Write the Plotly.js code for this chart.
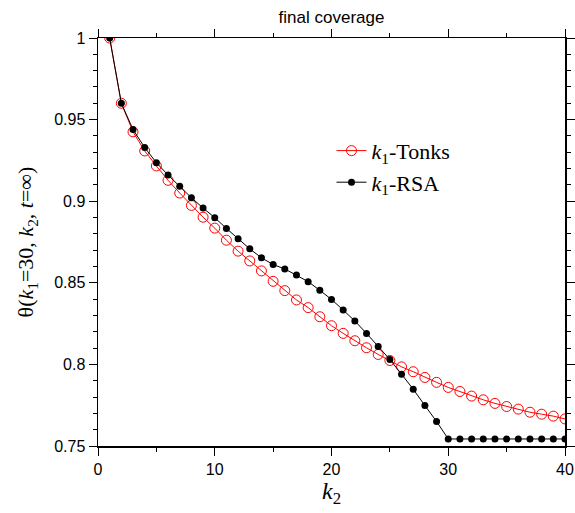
<!DOCTYPE html>
<html>
<head>
<meta charset="utf-8">
<script src="https://cdn.plot.ly/plotly-3.0.1.min.js"></script>
<style>html,body{margin:0;padding:0;background:#fff;}#chart{width:575px;height:513px;}</style>
</head>
<body>
<div id="chart"></div>
<script>
const k2 = [1,2,3,4,5,6,7,8,9,10,11,12,13,14,15,16,17,18,19,20,21,22,23,24,25,26,27,28,29,30,31,32,33,34,35,36,37,38,39,40];
const tonks = [1.0,0.960,0.9425,0.9308,0.9216,0.9128,0.905,0.8974,0.8902,0.8835,
  0.8761,0.8694,0.8634,0.8573,0.8509,0.8452,0.8395,0.8348,0.8292,0.8237,
  0.819,0.8145,0.8102,0.8061,0.8024,0.7985,0.7955,0.792,0.789,0.7859,
  0.7834,0.7806,0.7783,0.7761,0.7742,0.7726,0.7707,0.7695,0.7683,0.7666];
const rsa = [1.0,0.960,0.9439,0.9329,0.9236,0.916,0.9091,0.9021,0.8958,0.8899,
  0.8833,0.877,0.8708,0.8653,0.8612,0.8585,0.8548,0.8507,0.8454,0.8398,
  0.8333,0.8266,0.819,0.811,0.803,0.794,0.7848,0.7748,0.765,0.7543,
  0.7543,0.7543,0.7543,0.7543,0.7543,0.7543,0.7543,0.7543,0.7543,0.7543];
const names = ['<i>k</i><sub>1</sub>-Tonks', '<i>k</i><sub>1</sub>-RSA'];
const xTicks = [0,10,20,30,40];
const yTicks = [0.75,0.8,0.85,0.9,0.95,1];

const traces = [
  {x: k2, y: tonks, name: names[0], mode: 'lines+markers', type: 'scatter',
   line: {color: '#ff0000', width: 1},
   marker: {symbol: 'circle-open', size: 10, color: '#ff0000', line: {width: 1, color: '#ff0000'}}},
  {x: k2, y: rsa, name: names[1], mode: 'lines+markers', type: 'scatter',
   line: {color: '#000000', width: 1},
   marker: {symbol: 'circle', size: 7, color: '#000000'}}
];

const axisCommon = {
  showgrid: false, zeroline: false, showline: true, linecolor: '#000', linewidth: 1.5,
  mirror: 'ticks', ticks: 'outside', ticklen: 8, tickwidth: 1, tickcolor: '#000',
  tickfont: {family: 'Liberation Sans, Arial, sans-serif', size: 16, color: '#000'}
};

const layout = {
  width: 575, height: 513,
  margin: {l: 98, r: 10, t: 38, b: 67},
  paper_bgcolor: '#fff', plot_bgcolor: '#fff',
  title: {text: 'final coverage', x: 0.5765, xanchor: 'center', y: 0.966, yanchor: 'middle',
          font: {family: 'Liberation Sans, Arial, sans-serif', size: 17, color: '#000'}},
  xaxis: Object.assign({}, axisCommon, {
    range: [0, 40], tickvals: xTicks, ticktext: xTicks.map(String),
    minor: {dtick: 5, ticklen: 4, tickcolor: '#000', ticks: 'outside'},
    title: {text: '<i>k</i><sub>2</sub>', standoff: 4,
            font: {family: 'Liberation Serif, Times New Roman, serif', size: 24, color: '#000'}}
  }),
  yaxis: Object.assign({}, axisCommon, {
    range: [0.75, 1], tickvals: yTicks, ticktext: ['0.75','0.8','0.85','0.9','0.95','1'],
    minor: {dtick: 0.01, tick0: 0.75, ticklen: 4, tickcolor: '#000', ticks: 'outside'},
    title: {text: 'θ(<i>k</i><sub>1</sub>=30, <i>k</i><sub>2</sub>, <i>t</i>=∞)', standoff: 14,
            font: {family: 'Liberation Serif, Times New Roman, serif', size: 22, color: '#000'}}
  }),
  showlegend: true,
  legend: {x: 0.5, y: 0.775, xanchor: 'left', yanchor: 'top', bgcolor: 'rgba(0,0,0,0)',
           font: {family: 'Liberation Serif, Times New Roman, serif', size: 22, color: '#000'},
           tracegroupgap: 0, itemwidth: 30}
};

Plotly.newPlot('chart', traces, layout, {displayModeBar: false, staticPlot: true});
</script>
</body>
</html>
